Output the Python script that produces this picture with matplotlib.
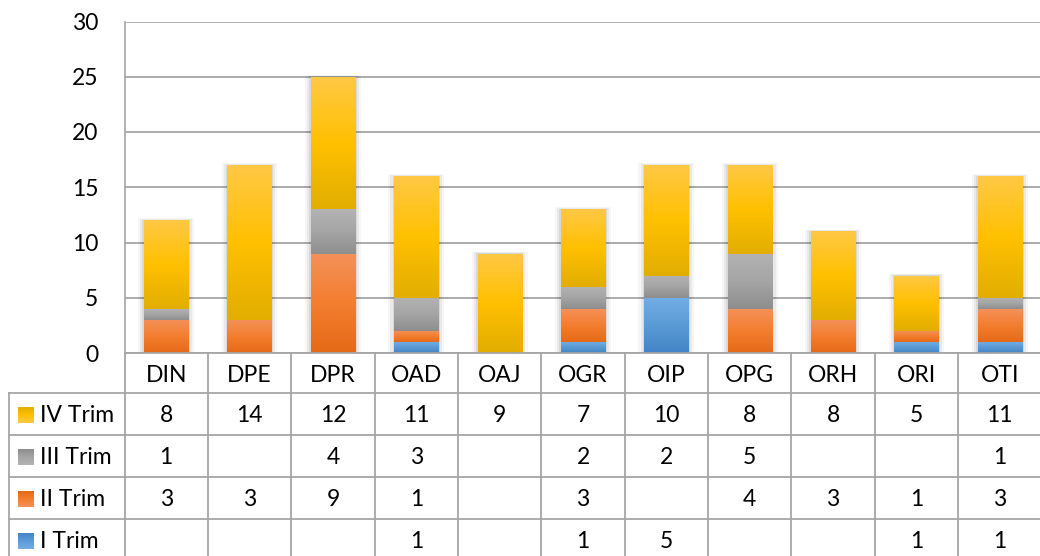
import numpy as np
import matplotlib
matplotlib.use('Agg')
import matplotlib.pyplot as plt
from matplotlib.colors import LinearSegmentedColormap
from matplotlib.patches import Rectangle

plt.rcParams['font.family'] = ['Lato', 'DejaVu Sans']

categories = ['DIN', 'DPE', 'DPR', 'OAD', 'OAJ', 'OGR', 'OIP', 'OPG', 'ORH', 'ORI', 'OTI']
trim_i = [0, 0, 0, 1, 0, 1, 5, 0, 0, 1, 1]
trim_ii = [3, 3, 9, 1, 0, 3, 0, 4, 3, 1, 3]
trim_iii = [1, 0, 4, 3, 0, 2, 2, 5, 0, 0, 1]
trim_iv = [8, 14, 12, 11, 9, 7, 10, 8, 8, 5, 11]
series_names = ['I Trim', 'II Trim', 'III Trim', 'IV Trim']

# (top, middle, bottom) colours for the excel-ish gradient
GRADIENTS = {
    'I Trim': ('#72AEE6', '#5B9BD5', '#4284C6'),
    'II Trim': ('#F4915A', '#F37E2F', '#E56A17'),
    'III Trim': ('#B3B3B3', '#A5A5A5', '#8E8E8E'),
    'IV Trim': ('#FFC845', '#FFC000', '#E2AE00'),
}
GRID_COLOUR = '#A6A6A6'
FONT_SIZE = 16.5

W, H = 1040, 556
fig = plt.figure(figsize=(W / 100, H / 100), dpi=100)

# plot area in pixels
left, right, top, bottom = 124.5, 1041.5, 21.5, 353
ax = fig.add_axes([left / W, 1 - bottom / H, (right - left) / W, (bottom - top) / H])


def gradient_fill(axis, patch, cols, z):
    x, y = patch.get_x(), patch.get_y()
    w, h = patch.get_width(), patch.get_height()
    if h <= 0:
        return
    cmap = LinearSegmentedColormap.from_list('g', [cols[2], cols[1], cols[0]])
    grad = np.linspace(0, 1, 64).reshape(-1, 1)
    im = axis.imshow(grad, extent=[x, x + w, y, y + h], origin='lower', cmap=cmap,
                     aspect='auto', zorder=z, interpolation='bicubic')
    im.set_clip_path(patch)


xs = np.arange(len(categories))
series = [trim_i, trim_ii, trim_iii, trim_iv]
bar_w = 0.53
base = np.zeros(len(categories))
totals = np.sum(series, axis=0)

# soft shadow behind the columns (a few faint, growing rectangles)
for i in range(len(categories)):
    for grow, a in [(0.07, 0.035), (0.045, 0.05), (0.02, 0.07)]:
        ax.add_patch(Rectangle((xs[i] - bar_w / 2 - grow, 0), bar_w + 2 * grow,
                               totals[i] + grow * 2.5, color='black', alpha=a,
                               lw=0, zorder=2))

for name, vals in zip(series_names, series):
    bars = ax.bar(xs, vals, bar_w, bottom=base, color=GRADIENTS[name][1], zorder=3, lw=0)
    for p in bars:
        gradient_fill(ax, p, GRADIENTS[name], 3.5)
    base = base + np.array(vals)

ax.set_xlim(-0.5, 10.5)
ax.set_ylim(0, 30)
ax.set_yticks(range(0, 31, 5))
ax.set_xticks([])
ax.tick_params(axis='y', length=0, pad=19, labelsize=FONT_SIZE)
ax.yaxis.grid(True, color=GRID_COLOUR, lw=1.3, zorder=0)
ax.set_axisbelow(True)
for s in ['top', 'right', 'bottom']:
    ax.spines[s].set_visible(False)
ax.spines['left'].set_color(GRID_COLOUR)
ax.spines['left'].set_linewidth(1.2)

# data table under the chart
tleft = 9
row_edges = [353, 393, 435, 477, 519, 561]
tab = fig.add_axes([tleft / W, 1 - row_edges[-1] / H, (right - tleft) / W, (row_edges[-1] - row_edges[0]) / H])
unit = (right - left) / len(categories)
lab_w = (left - tleft) / unit
tab.set_xlim(-0.5 - lab_w, 10.5)
tab.set_ylim(row_edges[-1], row_edges[0])
tab.axis('off')

line_kw = dict(color=GRID_COLOUR, lw=1.3, clip_on=False)
# horizontal lines
tab.plot([-0.5, 10.5], [row_edges[0]] * 2, **line_kw)
for r in row_edges[1:]:
    tab.plot([-0.5 - lab_w, 10.5], [r, r], **line_kw)
# vertical lines
for c in range(len(categories) + 1):
    tab.plot([c - 0.5] * 2, [row_edges[0], row_edges[-1]], **line_kw)
tab.plot([-0.5 - lab_w] * 2, [row_edges[1], row_edges[-1]], **line_kw)

for i, c in enumerate(categories):
    tab.text(i, (row_edges[0] + row_edges[1]) / 2 + 2, c, ha='center', va='center', fontsize=FONT_SIZE)

table_rows = list(zip(series_names, series))[::-1]
key_w = 16 / unit
for j, (name, vals) in enumerate(table_rows):
    yc = (row_edges[j + 1] + row_edges[j + 2]) / 2 + 1
    key = Rectangle((-0.5 - lab_w + 9 / unit, yc - 8), key_w, 16, color=GRADIENTS[name][1], lw=0)
    tab.add_patch(key)
    gradient_fill(tab, key, GRADIENTS[name], 3)
    tab.text(-0.5 - lab_w + 31 / unit, yc, name, ha='left', va='center', fontsize=FONT_SIZE)
    for i, v in enumerate(vals):
        if v:
            tab.text(i, yc, str(v), ha='center', va='center', fontsize=FONT_SIZE)

fig.savefig('out.png', dpi=100)
